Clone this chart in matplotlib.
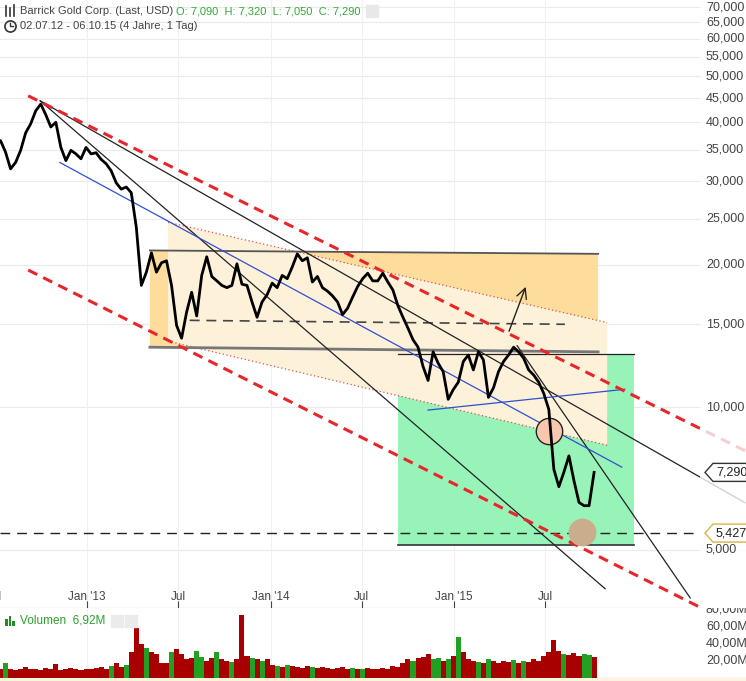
import matplotlib

matplotlib.use("Agg")
import matplotlib.dates as mdates
import matplotlib.pyplot as plt
import pandas as pd
from matplotlib.lines import Line2D
from matplotlib.patches import Polygon, Rectangle
from matplotlib.ticker import NullLocator

plt.rcParams["font.family"] = ["Liberation Sans", "DejaVu Sans"]

# price series: closes every 10 days, ending 06.10.15
price_end = "2015-10-06"
closes = [
    36.6, 36.6, 34.6, 31.9, 32.9, 34.9, 38.0, 39.7, 42.3, 43.7,
    41.5, 39.1, 40.0, 35.4, 33.2, 34.9, 34.3, 33.5, 35.4, 34.3,
    34.5, 33.4, 32.7, 31.6, 29.8, 28.9, 29.2, 28.4, 24.0, 18.1,
    19.3, 21.2, 19.3, 20.2, 20.4, 18.1, 14.9, 14.0, 15.9, 17.5,
    15.6, 19.0, 20.8, 18.9, 18.5, 18.1, 17.9, 18.1, 20.1, 18.2,
    18.1, 16.7, 15.5, 16.7, 17.3, 18.3, 17.9, 19.0, 18.7, 19.8,
    21.1, 20.4, 20.7, 18.4, 18.9, 17.9, 17.6, 17.2, 16.7, 15.7,
    16.2, 17.1, 18.0, 18.7, 19.2, 18.5, 18.5, 19.2, 18.4, 17.7,
    16.4, 15.5, 14.7, 13.9, 13.4, 12.2, 11.4, 13.1, 12.4, 11.9,
    10.4, 10.9, 11.3, 12.5, 12.9, 12.0, 13.1, 12.6, 10.5, 11.0,
    11.9, 12.5, 12.9, 13.4, 13.1, 12.7, 12.0, 11.7, 11.3, 10.7,
    9.9, 7.4, 6.8, 7.3, 7.9, 7.0, 6.3, 6.2, 6.2, 7.29,
]
volumes_m = [
    9, 10, 17, 11, 9, 10, 13, 11, 10, 9,
    12, 10, 16, 9, 10, 12, 10, 9, 11, 10,
    12, 13, 11, 14, 18, 13, 15, 30, 58, 40,
    35, 30, 28, 18, 17, 30, 34, 28, 22, 24,
    32, 25, 20, 23, 30, 22, 20, 19, 22, 74,
    26, 24, 22, 20, 22, 15, 14, 13, 15, 14,
    13, 12, 14, 13, 12, 13, 12, 11, 12, 13,
    11, 12, 10, 11, 12, 10, 11, 12, 10, 14,
    13, 18, 22, 20, 24, 25, 28, 22, 24, 20,
    22, 26, 48, 30, 22, 20, 19, 18, 22, 20,
    18, 20, 19, 21, 18, 20, 19, 22, 20, 26,
    30, 44, 32, 28, 27, 29, 26, 28, 27, 25,
]
green_bars = [2, 23, 26, 30, 35, 40, 41, 44, 47, 51, 53, 56, 58, 63, 71, 73,
              83, 87, 88, 90, 92, 96, 98, 103, 105, 113, 117, 118]

y_ticks = [5, 10, 15, 20, 25, 30, 35, 40, 45, 50, 55, 60, 65, 70]
vol_ticks = [20, 40, 60, 80]
x_tick_dates = ["2012-07-01", "2013-01-01", "2013-07-01", "2014-01-01",
                "2014-07-01", "2015-01-01", "2015-07-01"]
x_tick_labels = ["Jul", "Jan '13", "Jul", "Jan '14", "Jul", "Jan '15", "Jul"]

# drawn analysis: (start date, start price, end date, end price)
red_dashed = [
    ("2012-09-06", 45.5, "2016-08-01", 8.10),
    ("2012-09-06", 19.5, "2016-08-01", 3.39),
]
black_lines = [
    ("2012-09-30", 44.4, "2016-08-01", 6.29),
    ("2012-09-30", 44.4, "2015-10-28", 4.14),
    ("2015-05-06", 13.5, "2016-04-14", 3.96),
]
blue_lines = [
    ("2012-11-08", 32.9, "2015-11-30", 7.48),
    ("2014-11-10", 9.87, "2015-12-06", 10.92),
]
channel_dates = ["2013-06-11", "2015-11-01"]
channel_top = [24.6, 15.1]
channel_bottom = [13.8, 8.32]
box_dates = ["2013-05-06", "2015-10-14"]
box_top = [21.45, 21.1]
box_bottom = [13.4, 13.1]
green_dates = ["2014-09-11", "2015-12-24"]
green_range = [5.12, 12.95]
mid_dashed = ("2013-07-24", 15.27, "2015-08-09", 14.98)
support_dates = ["2012-07-12", "2016-05-03"]
support_price = 5.427
last_price = 7.29
ring_point = ("2015-07-08", 8.91)
dot_point = ("2015-09-12", 5.46)
arrow_from = ("2015-04-18", 14.3)
arrow_to = ("2015-05-25", 18.2)

x_start, x_end = "2012-07-12", "2016-08-03"
y_low, y_high = 3.77, 72.5


def d(s):
    return mdates.date2num(pd.Timestamp(s))


def price_tag(ax, price, text, edge):
    y = ax.transAxes.inverted().transform(ax.transData.transform((d(x_start), price)))[1]
    h = 9 / 608
    pts = [(705 / 746, y), (713 / 746, y + h), (1.01, y + h), (1.01, y - h), (713 / 746, y - h)]
    ax.add_patch(Polygon(pts, closed=True, transform=ax.transAxes, fc="white",
                         ec=edge, lw=1, zorder=30, clip_on=False))
    ax.text(716 / 746, y, text, transform=ax.transAxes, fontsize=9, color="#222",
            va="center", ha="left", zorder=31)


def draw_price_panel(ax):
    dates = pd.date_range(end=price_end, periods=len(closes), freq="10D")
    x = mdates.date2num(dates)

    ax.set_yscale("log")
    ax.set_xlim(d(x_start), d(x_end))
    ax.set_ylim(y_low, y_high)
    ax.yaxis.set_major_locator(NullLocator())
    ax.yaxis.set_minor_locator(NullLocator())
    for s in ["top", "left", "right"]:
        ax.spines[s].set_visible(False)
    ax.spines["bottom"].set_color("#888")

    for v in y_ticks:
        ax.axhline(v, color="#ebebeb", lw=0.8, zorder=0)
        ax.text(706 / 746, v, f"{v},000", transform=ax.get_yaxis_transform(),
                fontsize=9, color="#444", va="center", ha="left", zorder=25)
    ticks = [d(t) for t in x_tick_dates]
    for t, lab in zip(ticks, x_tick_labels):
        ax.axvline(t, color="#f0f0f0", lw=0.8, zorder=0)
        ax.text(t, 11 / 608, lab, transform=ax.get_xaxis_transform(), fontsize=8.5,
                color="#444", ha="center", va="center", clip_on=False)
    ax.set_xticks([t for t in ticks if t > d(x_start)])
    ax.set_xticklabels([])
    ax.tick_params(axis="x", direction="in", length=5, color="#444")

    # shaded zones
    gx = [d(s) for s in green_dates]
    ax.add_patch(Rectangle((gx[0], green_range[0]), gx[1] - gx[0],
                           green_range[1] - green_range[0], fc="#98f3b8", ec="none", zorder=1))
    bx = [d(s) for s in box_dates]
    ax.add_patch(Polygon([(bx[0], box_top[0]), (bx[1], box_top[1]), (bx[1], box_bottom[1]),
                          (bx[0], box_bottom[0])], fc="#fedd9c", ec="none", zorder=2))
    cx = [d(s) for s in channel_dates]
    ax.add_patch(Polygon([(cx[0], channel_top[0]), (cx[1], channel_top[1]),
                          (cx[1], channel_bottom[1]), (cx[0], channel_bottom[0])],
                         fc="#fef1da", ec="none", zorder=3))
    ax.plot(cx, channel_top, color="#d9534f", lw=0.9, ls=(0, (1, 2)), zorder=4)
    ax.plot(cx, channel_bottom, color="#d9534f", lw=0.9, ls=(0, (1, 2)), zorder=4)

    ax.plot(bx, box_top, color="#555", lw=1.3, zorder=5)
    ax.plot(bx, box_bottom, color="#777", lw=2.0, zorder=5)
    ax.plot(gx, [green_range[1]] * 2, color="#222", lw=0.9, zorder=5)
    ax.plot(gx, [green_range[0]] * 2, color="#333", lw=1.2, zorder=5)

    ax.plot([d(mid_dashed[0]), d(mid_dashed[2])], [mid_dashed[1], mid_dashed[3]],
            color="#444", lw=1.2, ls=(0, (6, 4)), zorder=5)
    ax.plot([d(s) for s in support_dates], [support_price] * 2,
            color="#222", lw=1.0, ls=(0, (7, 5)), zorder=5)

    for s0, p0, s1, p1 in black_lines:
        ax.plot([d(s0), d(s1)], [p0, p1], color="#222", lw=0.9, zorder=6)
    for s0, p0, s1, p1 in blue_lines:
        ax.plot([d(s0), d(s1)], [p0, p1], color="#3050d0", lw=0.9, zorder=6)
    for s0, p0, s1, p1 in red_dashed:
        ax.plot([d(s0), d(s1)], [p0, p1], color="#e8262a", lw=2.2,
                ls=(0, (3.3, 2.2)), zorder=7)

    ax.plot(d(ring_point[0]), ring_point[1], "o", ms=19, mfc="#f9c7ad",
            mec="#222", mew=1, zorder=8)
    ax.plot(d(dot_point[0]), dot_point[1], "o", ms=20, mfc="#c9ad8c",
            mec="none", zorder=8)

    ax.plot(x, closes, color="black", lw=2.0, zorder=10)

    ax.annotate("", xy=(d(arrow_to[0]), arrow_to[1]), xytext=(d(arrow_from[0]), arrow_from[1]),
                arrowprops=dict(arrowstyle="->", color="#222", lw=1,
                                mutation_scale=18), zorder=11)

    ax.add_patch(Rectangle((700 / 746, 0), 50 / 746, 1, transform=ax.transAxes,
                           fc="white", alpha=0.78, ec="none", zorder=20))
    price_tag(ax, last_price, "7,290", "#333")
    price_tag(ax, support_price, "5,427", "#d8b440")


def draw_volume_panel(vax):
    dates = pd.date_range(end=price_end, periods=len(volumes_m), freq="10D")
    x = mdates.date2num(dates)
    colors = ["#22a022" if i in green_bars else "#a80000" for i in range(len(volumes_m))]

    vax.set_xlim(d(x_start), d(x_end))
    vax.set_ylim(0, 82)
    vax.bar(x, volumes_m, width=10, color=colors, lw=0, zorder=2)
    vax.set_yticks([])
    vax.set_xticks([])
    for s in ["top", "left", "right"]:
        vax.spines[s].set_visible(False)
    vax.spines["bottom"].set_color("#666")
    for t in x_tick_dates:
        vax.axvline(d(t), color="#f0f0f0", lw=0.8, zorder=0)
    for v in vol_ticks:
        vax.text(706 / 746, v, f"{v},00M", transform=vax.get_yaxis_transform(),
                 fontsize=9, color="#444", va="center", ha="left", clip_on=True)

    vax.text(20 / 746, 0.82, "Volumen  6,92M", transform=vax.transAxes, fontsize=8.5,
             color="#2e9e2e", va="center")
    for i, h in enumerate([0.7, 1.0, 0.55]):
        vax.add_patch(Rectangle(((5 + 3.5 * i) / 746, 0.74), 2.6 / 746, 0.14 * h,
                                transform=vax.transAxes, fc="#1f8f1f", ec="none"))
    for px in [117, 131]:
        vax.plot(px / 746, 0.82, "s", ms=9, color="#ebebeb", transform=vax.transAxes,
                 clip_on=False)


def draw_header(fig):
    fig.text(20 / 746, 1 - 11 / 681, "Barrick Gold Corp. (Last, USD)", fontsize=8,
             color="#444", va="center")
    fig.text(176 / 746, 1 - 11 / 681, "O: 7,090  H: 7,320  L: 7,050  C: 7,290",
             fontsize=8, color="#33aa33", va="center")
    fig.text(20 / 746, 1 - 26 / 681, "02.07.12 - 06.10.15 (4 Jahre, 1 Tag)",
             fontsize=8, color="#444", va="center")
    fig.add_artist(Line2D([372 / 746], [1 - 11 / 681], marker="s", ms=9,
                          color="#e8e8e8", transform=fig.transFigure))
    for px, y0, y1 in [(6, 6, 16), (10, 8, 16), (14, 5, 16)]:
        fig.add_artist(Line2D([px / 746] * 2, [1 - y0 / 681, 1 - y1 / 681], color="#333",
                              lw=1.2, transform=fig.transFigure))
    fig.add_artist(Line2D([10 / 746], [1 - 26 / 681], marker="o", ms=8, mfc="none",
                          mec="#333", mew=1.2, transform=fig.transFigure))
    fig.add_artist(Line2D([10 / 746, 10 / 746, 13 / 746],
                          [1 - 23 / 681, 1 - 26 / 681, 1 - 26 / 681], color="#333",
                          lw=1, transform=fig.transFigure))


def main():
    fig = plt.figure(figsize=(7.46, 6.81), dpi=100)
    ax = fig.add_axes([0, 73 / 681, 1, 608 / 681])
    vax = fig.add_axes([0, 3 / 681, 1, 70 / 681])

    draw_price_panel(ax)
    draw_volume_panel(vax)
    draw_header(fig)
    fig.add_artist(Rectangle((0, 0), 1, 3 / 681, transform=fig.transFigure,
                             fc="#fbf3dc", ec="none"))

    fig.savefig("out.png", dpi=100)
    plt.close(fig)


if __name__ == "__main__":
    main()
